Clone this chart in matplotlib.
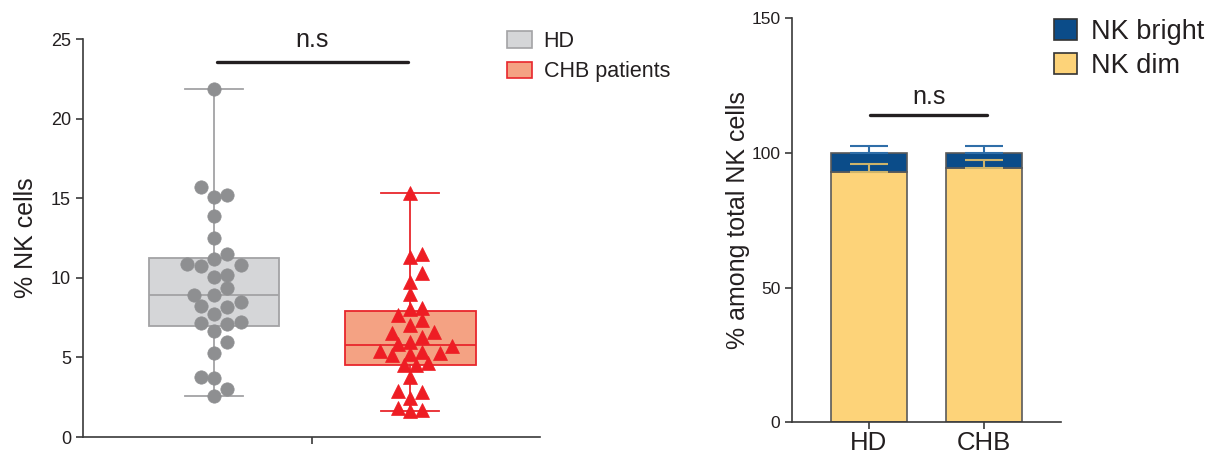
import numpy as np
import matplotlib
matplotlib.use("Agg")
import matplotlib.pyplot as plt
from matplotlib.patches import Patch

plt.rcParams['font.family'] = ['Liberation Sans', 'DejaVu Sans']

# ---------------- data ----------------
groups = ["HD", "CHB patients"]
hd_values = [21.86, 15.68, 15.10, 15.18, 13.90, 12.48, 11.52, 11.18, 10.85, 10.76,
             10.78, 10.07, 10.20, 9.34, 8.92, 8.90, 8.46, 8.21, 8.15, 7.75,
             7.24, 7.10, 7.14, 6.68, 5.95, 5.26, 3.75, 3.71, 3.02, 2.60]
chb_values = [15.35, 11.50, 11.33, 10.28, 9.72, 8.98, 8.02, 8.10, 7.64, 7.35,
              7.05, 6.55, 6.62, 6.30, 5.99, 5.74, 5.84, 5.36, 5.21, 5.13,
              5.26, 5.40, 4.55, 4.50, 4.63, 3.79, 2.85, 2.91, 2.45, 1.80,
              1.72, 1.62]
left_yticks = [0, 5, 10, 15, 20, 25]

bar_categories = ["HD", "CHB"]
nk_dim = [93.0, 94.4]
nk_dim_err = [2.9, 2.9]
nk_bright = [7.0, 5.6]
nk_bright_err = [2.5, 2.7]
right_yticks = [0, 50, 100, 150]
sig_label = "n.s"

# ---------------- style ----------------
TXT = '#231f20'
SP = '#3a3a3a'
hd_fill, hd_edge, hd_pt = '#d5d6d8', '#a3a3a5', '#8e8f91'
chb_fill, chb_edge, chb_pt = '#f4a283', '#e8262c', '#ee1d24'
dim_col, bright_col = '#fdd379', '#0b4c89'

fig = plt.figure(figsize=(12.14, 4.54), dpi=100)
ax = fig.add_axes([82.7/1214, 1-437/454, (540-82.7)/1214, (437-39)/454])
ax2 = fig.add_axes([792.3/1214, 1-422/454, (1061-792.3)/1214, (422-18.5)/454])

for a, ls in ((ax, 13), (ax2, 12.5)):
    for s in ('top', 'right'):
        a.spines[s].set_visible(False)
    for s in ('left', 'bottom'):
        a.spines[s].set_color(SP)
        a.spines[s].set_linewidth(1.2)
    a.tick_params(direction='out', length=5, width=1.2, color=SP, labelcolor=TXT, labelsize=ls)

# ---------------- left panel ----------------
def bstats(vals, label):
    v = np.asarray(vals)
    q1, med, q3 = np.percentile(v, [25, 50, 75], method='weibull')
    return dict(label=label, med=med, q1=q1, q3=q3, whislo=v.min(), whishi=v.max(), fliers=[])

def swarm(vals, diam_px, px_x, px_y, step_px):
    order = np.argsort(vals)
    placed = []
    offs = np.zeros(len(vals))
    for i in order:
        y = vals[i] * px_y
        for k in range(0, 40):
            cands = [0] if k == 0 else [k * step_px, -k * step_px]
            ok = None
            for c in cands:
                if all((c - px) ** 2 + (y - py) ** 2 >= (diam_px * 0.98) ** 2 for px, py in placed):
                    ok = c
                    break
            if ok is not None:
                placed.append((ok, y))
                offs[i] = ok / px_x
                break
    return offs

px_x, px_y = 196.0, 15.92
box_w = 0.668
for pos, vals, fill, edge, ptc, mk, ms, dpx in [
        (0, hd_values, hd_fill, hd_edge, hd_pt, 'o', 9.6, 13.3),
        (1, chb_values, chb_fill, chb_edge, chb_pt, '^', 9.5, 12.0)]:
    st = bstats(vals, groups[pos])
    ax.bxp([st], positions=[pos], widths=box_w, patch_artist=True, showfliers=False,
           boxprops=dict(facecolor=fill, edgecolor=edge, linewidth=1.3),
           medianprops=dict(color=edge, linewidth=1.3),
           whiskerprops=dict(color=edge, linewidth=1.3),
           capprops=dict(color=edge, linewidth=1.3), capwidths=0.296,
           manage_ticks=False, zorder=1)
    v = np.asarray(vals)
    offs = swarm(v, dpx, px_x, px_y, dpx / 2)
    ax.plot(pos + offs, v, linestyle='none', marker=mk, markersize=ms,
            markerfacecolor=ptc, markeredgecolor=ptc, markeredgewidth=0.5, zorder=3)

ax.set_xlim(-0.67, 1.663)
ax.set_ylim(0, 25)
ax.set_yticks(left_yticks)
ax.set_xticks([0.5])
ax.set_xticklabels([''])
ax.set_ylabel('% NK cells', fontsize=18, color=TXT, labelpad=9)

ax.plot([0.014, 0.99], [23.57, 23.57], color='#231f20', linewidth=2.4, solid_capstyle='round')
ax.text(0.5, 24.2, sig_label, ha='center', va='bottom', fontsize=18, color=TXT)

fig.legend(handles=[Patch(facecolor=hd_fill, edgecolor=hd_edge, linewidth=1.2, label=groups[0]),
                    Patch(facecolor=chb_fill, edgecolor=chb_edge, linewidth=1.2, label=groups[1])],
           loc='upper left', bbox_to_anchor=(507/1214, 1-31/454), frameon=False,
           fontsize=15.5, handlelength=1.15, handleheight=0.78, handletextpad=0.55,
           labelspacing=0.44, borderpad=0, borderaxespad=0, labelcolor=TXT)

# ---------------- right panel ----------------
xb = np.arange(len(bar_categories))
bw = 0.666
dim_arr = np.asarray(nk_dim)
br_arr = np.asarray(nk_bright)
ax2.bar(xb, dim_arr, bw, color=dim_col, edgecolor='#5a5a5a', linewidth=1.2, zorder=2, label='NK dim')
ax2.bar(xb, br_arr, bw, bottom=dim_arr, color=bright_col, edgecolor='#5a5a5a', linewidth=1.2,
        zorder=2, label='NK bright')
ax2.errorbar(xb, dim_arr + br_arr, yerr=[np.zeros(2), nk_bright_err], fmt='none',
             ecolor='#2f6ea8', elinewidth=1.5, capsize=14, capthick=1.5, zorder=3)
ax2.errorbar(xb, dim_arr, yerr=[np.zeros(2), nk_dim_err], fmt='none',
             ecolor='#cdb36a', elinewidth=1.5, capsize=14, capthick=1.5, zorder=3)

ax2.set_xlim(-0.667, 1.67)
ax2.set_ylim(0, 150)
ax2.set_yticks(right_yticks)
ax2.set_xticks(xb)
ax2.set_xticklabels(bar_categories, fontsize=18.5, color=TXT)
ax2.tick_params(axis='x', pad=1.5)
ax2.set_ylabel('% among total NK cells', fontsize=18, color=TXT, labelpad=1)

ax2.plot([0.01, 1.03], [114.1, 114.1], color='#231f20', linewidth=2.4, solid_capstyle='round')
ax2.text(0.52, 116.5, sig_label, ha='center', va='bottom', fontsize=18, color=TXT)

fig.legend(handles=[Patch(facecolor=bright_col, edgecolor='#333333', linewidth=1.2, label='NK bright'),
                    Patch(facecolor=dim_col, edgecolor='#333333', linewidth=1.2, label='NK dim')],
           loc='upper left', bbox_to_anchor=(1054/1214, 1-19/454), frameon=False,
           fontsize=19.5, handlelength=0.85, handleheight=0.8, handletextpad=0.5,
           labelspacing=0.3, borderpad=0, borderaxespad=0, labelcolor=TXT)

fig.savefig('out.png', dpi=100)
